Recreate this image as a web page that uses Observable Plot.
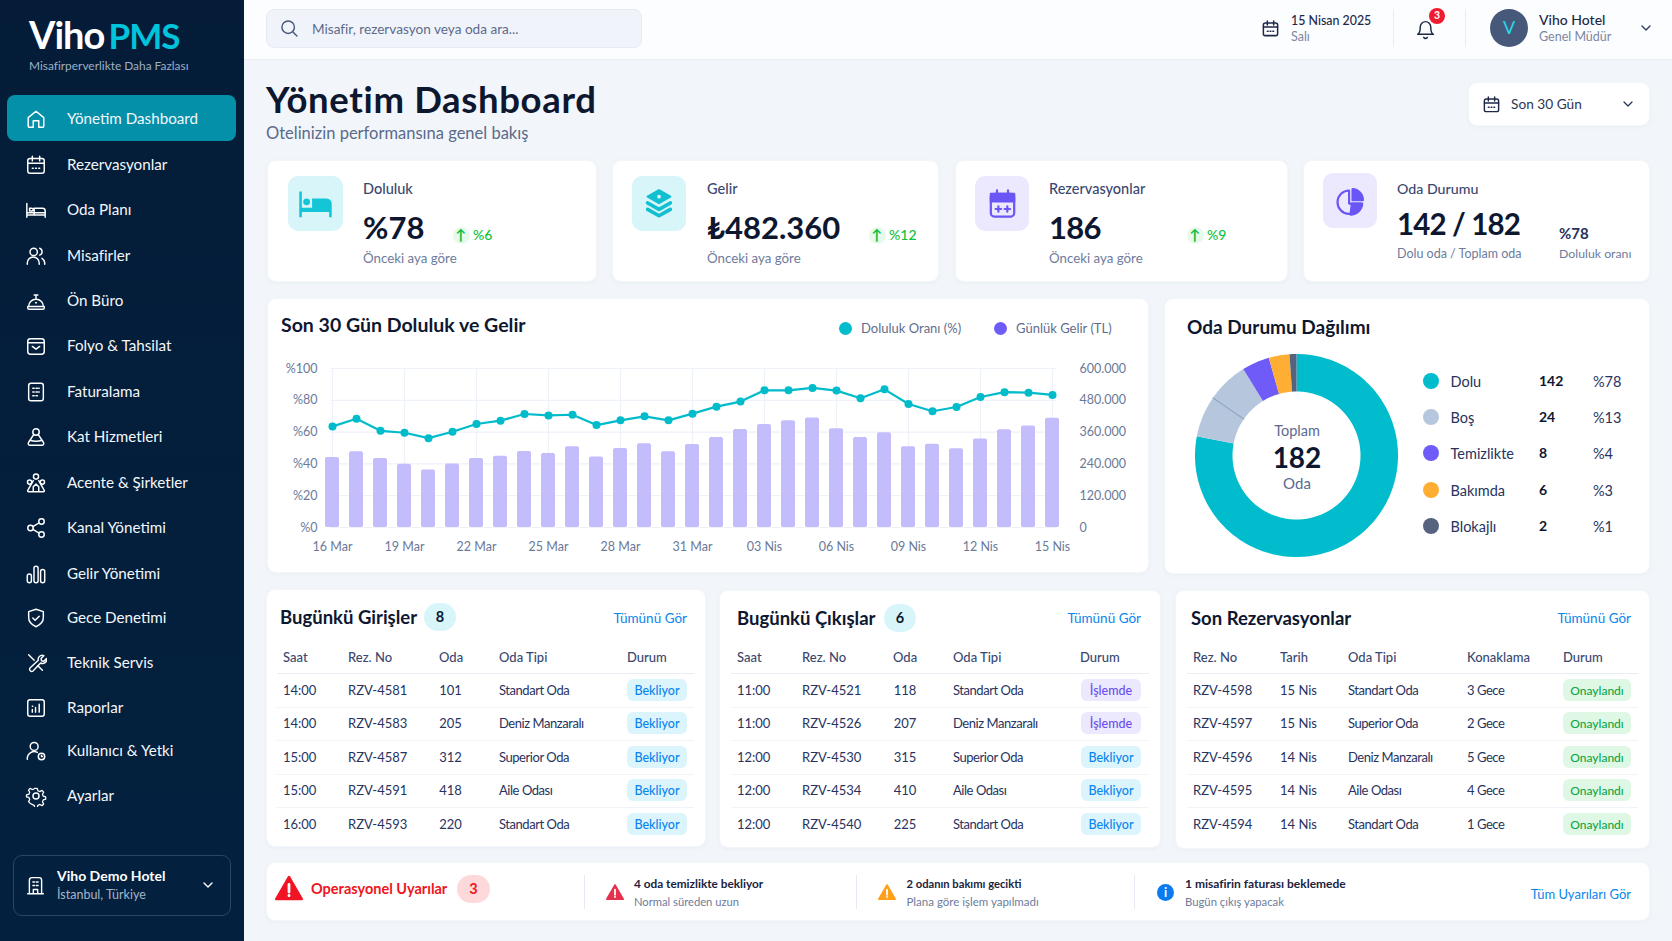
<!DOCTYPE html>
<html lang="tr"><head><meta charset="utf-8"><title>Viho PMS</title>
<script src="https://cdn.jsdelivr.net/npm/d3@7"></script>
<script src="https://cdn.jsdelivr.net/npm/@observablehq/plot@0.6"></script>
<style>
html,body{margin:0;padding:0;background:#f2f6fb}
#app{position:relative;width:1672px;height:941px;overflow:hidden;font-family:Lato,"Noto Sans",sans-serif;background:#f2f6fb}
#app>*{position:absolute}
.t{white-space:nowrap;line-height:1.1}
.card{background:#fff;border-radius:9px;border:1px solid #f4f6fa;box-sizing:border-box;box-shadow:0 1px 4px rgba(60,90,140,.05)}
svg{display:block}
</style></head><body><div id="app"></div>
<script>
// ---- chart data ----
const days = ["16 Mar","17 Mar","18 Mar","19 Mar","20 Mar","21 Mar","22 Mar","23 Mar","24 Mar","25 Mar","26 Mar","27 Mar","28 Mar","29 Mar","30 Mar","31 Mar","01 Nis","02 Nis","03 Nis","04 Nis","05 Nis","06 Nis","07 Nis","08 Nis","09 Nis","10 Nis","11 Nis","12 Nis","13 Nis","14 Nis","15 Nis"];
const dayTicks = ["16 Mar","19 Mar","22 Mar","25 Mar","28 Mar","31 Mar","03 Nis","06 Nis","09 Nis","12 Nis","15 Nis"];
const occupancy = [63.6,68.4,60.8,59.6,56.2,60.2,65.1,67.2,71.4,70.5,70.9,64.4,67.4,69.9,67.4,71.6,76,79.2,86.3,86.3,87.8,86.1,81.3,86.9,77.7,73.1,75.8,82.1,85.1,84.8,83.4];
const revenue = [264000,285500,260200,238700,217300,240000,260200,269100,286700,279200,304400,266500,298100,315800,285500,313300,339800,370100,389100,402900,413100,372600,339800,357500,304400,314500,296800,333500,368800,382700,411800];
const leftTicks = [0,20,40,60,80,100];
const roomNames = ["Dolu","Boş","Temizlikte","Bakımda","Blokajlı"];
const roomCounts = [142,24,8,6,2];
const roomPcts = ["%78","%13","%4","%3","%1"];
const roomColors = ["#00bccd","#b6c6dc","#6f5cf8","#ffae34","#55637f"];
// ---- page text data ----
const navItems = ["Yönetim Dashboard","Rezervasyonlar","Oda Planı","Misafirler","Ön Büro","Folyo & Tahsilat","Faturalama","Kat Hizmetleri","Acente & Şirketler","Kanal Yönetimi","Gelir Yönetimi","Gece Denetimi","Teknik Servis","Raporlar","Kullanıcı & Yetki","Ayarlar"];
const navIcons = ["home","cal","bed","users","ring","folio","invoice","maid","agency","share","bars","shield","wrench","report","usercog","gear"];
const arrivals = [["14:00","RZV-4581","101","Standart Oda","Bekliyor"],["14:00","RZV-4583","205","Deniz Manzaralı","Bekliyor"],["15:00","RZV-4587","312","Superior Oda","Bekliyor"],["15:00","RZV-4591","418","Aile Odası","Bekliyor"],["16:00","RZV-4593","220","Standart Oda","Bekliyor"]];
const departures = [["11:00","RZV-4521","118","Standart Oda","İşlemde"],["11:00","RZV-4526","207","Deniz Manzaralı","İşlemde"],["12:00","RZV-4530","315","Superior Oda","Bekliyor"],["12:00","RZV-4534","410","Aile Odası","Bekliyor"],["12:00","RZV-4540","225","Standart Oda","Bekliyor"]];
const bookings = [["RZV-4598","15 Nis","Standart Oda","3 Gece","Onaylandı"],["RZV-4597","15 Nis","Superior Oda","2 Gece","Onaylandı"],["RZV-4596","14 Nis","Deniz Manzaralı","5 Gece","Onaylandı"],["RZV-4595","14 Nis","Aile Odası","4 Gece","Onaylandı"],["RZV-4594","14 Nis","Standart Oda","1 Gece","Onaylandı"]];

const app = document.getElementById("app");
function box(x,y,w,h,bg,r=0,extra=""){const d=document.createElement("div");d.style.cssText=`left:${x}px;top:${y}px;width:${w}px;height:${h}px;background:${bg};border-radius:${r}px;${extra}`;app.append(d);return d;}
function card(x0,y0,x1,y1){const d=box(x0,y0,x1-x0,y1-y0,"#fff",9);d.className="card";return d;}
function T(x,y,s,size,weight,color,anchor="start",ls=0){const d=document.createElement("div");d.className="t";d.textContent=s;
 const tx=anchor==="middle"?"-50%":anchor==="end"?"-100%":"0";
 d.style.cssText=`left:${x}px;top:${y}px;font-size:${size}px;font-weight:${weight};color:${color};transform:translate(${tx},-50%);letter-spacing:${ls}px`;app.append(d);return d;}
const P={
 home:'<path d="M3.5 10.5 12 3.5l8.5 7V20a1 1 0 0 1-1 1H15v-7H9v7H4.500a1 1 0 0 1-1-1z"/>',
 cal:'<rect x="3" y="5" width="18" height="16" rx="2.500"/><path d="M8 2.500v5M16 2.500v5M3 10h18M8 15.500h1M11.500 15.500h1M15 15.500h1"/>',
 bed:'<path d="M2 5v15M2 17.500h20V20M22 17.500V13a3 3 0 0 0-3-3H10v7.500M5 10h2.500a1.300 1.300 0 0 1 0 3H5z"/><path d="M2 15h20"/>',
 users:'<circle cx="9.500" cy="7.500" r="4"/><path d="M2.500 21v-1.500a6.500 6.500 0 0 1 13 0V21M16 3.500a4 4 0 0 1 0 7.500M18.500 14.500a6 6 0 0 1 3 5V21"/>',
 ring:'<path d="M4 18a8 8 0 0 1 16 0M3 18h18v1.500a1.500 1.500 0 0 1-1.500 1.500h-15A1.500 1.500 0 0 1 3 19.500zM12 10V6M10 5.500h4M11.500 14h1"/>',
 folio:'<rect x="3" y="4" width="18" height="17" rx="3"/><path d="M3 8.500h18M8 12.500l4 3 4-3"/>',
 invoice:'<rect x="4" y="2.500" width="16" height="19" rx="2.500"/><path d="M8.500 8h1.500M12 8h1.500M15 8h.5M8.500 12h1.500M12 12h1.500M15 12h.5M8.500 16h1.500M12 16h1.500"/>',
 maid:'<circle cx="12" cy="6.500" r="3.500"/><path d="M9.500 9.500 3.800 18a2 2 0 0 0 1.700 3h13a2 2 0 0 0 1.700-3l-5.700-8.500M5.500 15.500c4 1.500 9 1.500 13 0"/>',
 agency:'<circle cx="12" cy="5" r="2.800"/><circle cx="5" cy="11" r="2.300"/><circle cx="19" cy="11" r="2.300"/><path d="M9 9.500 3 20a1 1 0 0 0 1 1.500h16a1 1 0 0 0 1-1.500L15 9.500M9 21v-5l3-3 3 3v5"/>',
 share:'<circle cx="18" cy="5" r="3"/><circle cx="6" cy="12" r="3"/><circle cx="18" cy="19" r="3"/><path d="M8.600 10.500l6.800-4M8.600 13.500l6.800 4"/>',
 bars:'<rect x="2.500" y="12" width="4.500" height="9.500" rx="2.200"/><rect x="9.800" y="3.500" width="4.500" height="18" rx="2.200"/><rect x="17" y="7" width="4.500" height="14.500" rx="2.200"/>',
 shield:'<path d="M12 2.500 4 5v6.500c0 4.800 3.300 8 8 10 4.700-2 8-5.200 8-10V5z"/><path d="M8.500 12l2.500 2.500 4.500-4.500"/>',
 wrench:'<path d="M14.700 6.300a4.500 4.500 0 0 1 5.800-2.300l-3 3 .5 2.500 2.500.5 3-3a4.500 4.500 0 0 1-6.500 5L9 20.500a2.300 2.300 0 0 1-3.300-3.300L14.500 9a4.500 4.500 0 0 1 .2-2.700z"/><path d="M4 3l6 6M14 15l5 5"/>',
 report:'<rect x="3" y="3" width="18" height="18" rx="2.500"/><path d="M8 16.500v-3M11.500 16.500v-5M15.500 16.500V8M8 10h.5"/>',
 usercog:'<circle cx="10" cy="7" r="4.300"/><path d="M2.500 21v-1a7.500 7.500 0 0 1 11-6.500"/><circle cx="18" cy="18" r="3.500"/><path d="M18 16.500V18h1"/>',
 gear:'<circle cx="12" cy="12" r="3.300"/><path d="M10.500 2.500h3l.8 3 2.500 1 2.700-1.500 2 2.200-1.500 2.600 1 2.400 3 .8v3l-3 .8-1 2.500 1.500 2.600-2 2.100-2.700-1.500-2.500 1-.8 3h-3l-.8-3-2.500-1L4.700 21l-2-2.100 1.500-2.600-1-2.500-3-.8V10.500l3-.8 1-2.400L2.700 4.700l2-2.200 2.700 1.500 2.500-1z" transform="translate(1.440 1.440) scale(.88)"/>',
 building:'<path d="M5 21.500V6a3 3 0 0 1 3-3h8a3 3 0 0 1 3 3v15.500M3 21.500h18M9.500 21.500v-5h5v5M9 8h2M13 8h2M9 12h2M13 12h2"/>',
 chev:'<path d="M6 9l6 6 6-6"/>',
 search:'<circle cx="11" cy="11" r="7.500"/><path d="M21.500 21.500 16.500 16.500"/>',
 bell:'<path d="M6 9a6 6 0 0 1 12 0c0 7 3 8.500 3 8.500H3S6 16 6 9M10 21a2.200 2.200 0 0 0 4 0"/>',
 kbed:'<path d="M2.500 5v15h1.500v-3h16v3h1.500v-8a3 3 0 0 0-3-3H10v5.500H4V5z" fill="currentColor" stroke="none"/><circle cx="6.800" cy="11" r="2" fill="currentColor" stroke="none"/>',
 klayers:'<path d="M12 3l8 4.500-8 4.500-8-4.500z" fill="currentColor"/><path d="M4 12l8 4.500 8-4.500M4 16.500 12 21l8-4.500" stroke-width="2.600"/><circle cx="12" cy="7.500" r="1.300" fill="#dff7fb" stroke="none"/>',
 kcal:'<rect x="3.500" y="5" width="17" height="16.500" rx="2.500"/><path d="M3.500 5h17v5.500h-17z" fill="currentColor"/><path d="M8 2.500v5M16 2.500v5M7 16h4M9 14v4M13.500 16h4M15.500 14v4"/>',
 kpie:'<path d="M11 4a8.500 8.500 0 1 0 8.500 9.500H11z"/><path d="M13.500 3v8H21a8 8 0 0 0-7.500-8zM13 13.500h7.500a8.500 8.500 0 0 1-8.500 8z" fill="currentColor"/>'
};
function I(name,cx,cy,size,color,sw=1.8){const d=document.createElement("div");d.style.cssText=`left:${cx-size/2}px;top:${cy-size/2}px;width:${size}px;height:${size}px;color:${color}`;
 d.innerHTML=`<svg viewBox="0 0 24 24" width="${size}" height="${size}" fill="none" stroke="currentColor" stroke-width="${sw}" stroke-linecap="round" stroke-linejoin="round">${P[name]}</svg>`;app.append(d);}
function triangle(cx,cy,w,color){const d=document.createElement("div");d.style.cssText=`left:${cx-w/2}px;top:${cy-w/2}px;width:${w}px;height:${w}px`;
 d.innerHTML=`<svg viewBox="0 0 24 24" width="${w}" height="${w}"><path d="M12 2.500 23 21.500H1z" fill="${color}" stroke="${color}" stroke-width="2" stroke-linejoin="round"/><path d="M12 9v6.500M12 18.300v.4" stroke="#fff" stroke-width="2.400" stroke-linecap="round"/></svg>`;app.append(d);}

// Sidebar
box(0,0,244,941,"linear-gradient(180deg,#041c38,#03213f)");
const logo=T(29,35,"",38,700,"#fff","start",-1);logo.innerHTML='Viho <span style="color:#00c4dc;font-weight:700;font-size:35px;margin-left:-4px">PMS</span>';
T(29,66,"Misafirperverlikte Daha Fazlası",11.9,400,"#9db0c5");
box(7,95,229,46,"#0590aa",8);
const navY=[119,165,210,256,301,346,392,437,483,528,574,618,663,708,751,796];
navItems.forEach((s,i)=>{I(navIcons[i],36,navY[i],22,"#fff",1.6);T(67,navY[i]-1,s,15.2,400,"#f4f7fb");});
box(13,855,216,59,"transparent",9,"border:1px solid #2b4662;");
I("building",35,885,21,"#fff",1.6);
T(57,876,"Viho Demo Hotel",14,700,"#fff");T(57,895,"İstanbul, Türkiye",12.5,400,"#a5b5c8");
I("chev",208,885,16,"#fff",2);

// Top bar
box(244,0,1428,60,"#fcfdfe",0,"border-bottom:1px solid #e9eef5;box-sizing:border-box");
box(266,9,376,39,"#f0f4fa",8,"border:1px solid #e6ecf5;box-sizing:border-box");
I("search",289,28,20,"#47567a",1.7);
T(312,29,"Misafir, rezervasyon veya oda ara...",13.6,400,"#5c6a8a");
I("cal",1270,28,19,"#1c2848",1.9);
T(1291,21,"15 Nisan 2025",12.4,500,"#1c2848");T(1291,37,"Salı",12.5,400,"#7b87a2");
box(1393,9,1,38,"#e8edf4");box(1465,9,1,38,"#e8edf4");
I("bell",1425,29,21,"#1c2848",1.7);
box(1429,8,16,16,"#ef1c2e",8);T(1437,16,"3",10.5,700,"#fff","middle");
box(1490,9,38,38,"#47597b",19);T(1509,28,"V",18,400,"#2ad6e8","middle");
T(1539,20,"Viho Hotel",14,500,"#1c2848");T(1539,37,"Genel Müdür",12.5,400,"#7b87a2");
I("chev",1646,28,16,"#2e3b5c",2);

// Heading
T(266,98.500,"Yönetim Dashboard",36.500,700,"#0e1730","start",0.65);
T(266,133,"Otelinizin performansına genel bakış",16.500,400,"#5a6a8a");
card(1468,82,1650,126);I("cal",1491,104,19,"#1c2848",1.8);T(1511,104,"Son 30 Gün",13.700,400,"#2a3658");I("chev",1628,104,16,"#2e3b5c",2);

// KPI cards
card(267,160,597,282);card(612,160,939,282);card(955,160,1288,282);card(1303,160,1650,282);
box(288,176,55,55,"#d8f6fa",10);box(632,176,54,55,"#d8f6fa",10);box(975,176,54,55,"#ece9fe",10);box(1323,173,54,55,"#ece9fe",10);
I("kbed",315,203,41,"#14c5d8",1.8);I("klayers",659,203,34,"#12bfd0",1.6);I("kcal",1002,203,33,"#6a55f5",1.6);I("kpie",1350,201,33,"#6a55f5",1.6);
function kpi(x,label,val,ax,pct,ptx,sub){T(x,189,label,14.500,500,"#3a4870");T(x,227,val,31,700,"#0e1730","start",val==="186"?-.7:0);
 box(ax-8,227,17,17,"#e7f9ec",9);T(ax,235,"↑",14.500,700,"#0cbf3c","middle");T(ptx,235,pct,14,500,"#0cbf3c");T(x,258,sub,13.300,400,"#6d7c9c");}
kpi(363,"Doluluk","%78",461,"%6",473,"Önceki aya göre");
kpi(707,"Gelir","₺482.360",877,"%12",889,"Önceki aya göre");
kpi(1049,"Rezervasyonlar","186",1195,"%9",1207,"Önceki aya göre");
T(1397,189,"Oda Durumu",14.200,500,"#3a4870");T(1397,224,"142 / 182",29.500,700,"#0e1730","start",-.85);
T(1559,233,"%78",15,700,"#26325a");T(1397,254,"Dolu oda / Toplam oda",12.500,400,"#6d7c9c");T(1559,254,"Doluluk oranı",12.300,400,"#6d7c9c");

// Combo chart
card(267,298,1149,573);
T(281,325,"Son 30 Gün Doluluk ve Gelir",19.500,700,"#0e1730");
box(839,322,13,13,"#00bccd",7);T(861,328,"Doluluk Oranı (%)",13,400,"#5f6d8c");
box(994,322,13,13,"#6f5cf8",7);T(1016,328,"Günlük Gelir (TL)",13,400,"#5f6d8c");
const series = days.map((d,i)=>({day:d,occ:occupancy[i],rev:revenue[i]}));
const combo = Plot.plot({
 width:882,height:225,marginLeft:51.500,marginRight:82.500,marginTop:28,marginBottom:38,
 style:{background:"transparent",fontFamily:"Lato,'Noto Sans',sans-serif",fontSize:"12.5px",color:"#6b7a99",overflow:"visible"},
 x:{type:"band",domain:days,paddingInner:0.4,paddingOuter:0.2,label:null},
 y:{domain:[0,100],label:null},
 marks:[
  Plot.ruleY(leftTicks,{stroke:"#edf1f8",strokeWidth:1.200,insetLeft:12,insetRight:10}),
  Plot.ruleX(dayTicks,{stroke:"#eef2f8",strokeWidth:1.200}),
  Plot.barY(series,{x:"day",y:d=>d.rev/6000,fill:"#c3bdfb",rx:2}),
  Plot.line(series,{x:"day",y:"occ",stroke:"#00bcca",strokeWidth:2.200}),
  Plot.dot(series,{x:"day",y:"occ",fill:"#00bcca",r:4}),
  Plot.axisY({anchor:"left",ticks:leftTicks,tickSize:0,tickPadding:1.500,tickFormat:d=>"%"+d,label:null}),
  Plot.axisY({anchor:"right",ticks:leftTicks,tickSize:0,tickPadding:12.500,tickFormat:d=>(d*6000).toLocaleString("tr-TR"),label:null}),
  Plot.axisX({ticks:dayTicks,tickSize:0,tickPadding:15,label:null})
 ]});
const cw=document.createElement("div");cw.style.cssText="left:267px;top:340px";cw.append(combo);app.append(cw);

// Donut chart
card(1164,298,1650,574);
T(1187,327,"Oda Durumu Dağılımı",19,700,"#0e1730");
const DS=220, R=101.500, rIn=64, k=R/(Math.PI/3), colOut=60, colIn=rIn/k*180/Math.PI;
const total=d3.sum(roomCounts);
let acc=0;
const slices=roomNames.map((n,i)=>{const a0=acc/total*360;acc+=roomCounts[i];const a1=acc/total*360;
 const thetas=d3.range(a0,a1,1.500).concat([a1]);
 const outer=thetas.map(t=>[180-t,90-colOut]);const inner=thetas.slice().reverse().map(t=>[180-t,90-colIn]);
 return {name:n,color:roomColors[i],mid:(a0+a1)/2,geom:{type:"Polygon",coordinates:[[...outer,...inner,outer[0]]]}};});
const seam={type:"LineString",coordinates:[[180-slices[1].mid,90-colOut],[180-slices[1].mid,90-colIn]]};
const donut=Plot.plot({width:DS,height:DS,margin:0,style:{background:"transparent",overflow:"visible"},
 projection:d3.geoAzimuthalEquidistant().rotate([0,-90]).translate([DS/2,DS/2]).scale(k),
 marks:[Plot.geo(slices,{geometry:d=>d.geom,fill:d=>d.color}),Plot.geo([seam],{stroke:"#86a3bd",strokeWidth:1.100})]});
const dw=document.createElement("div");dw.style.cssText=`left:${1296-DS/2}px;top:${455-DS/2}px`;dw.append(donut);app.append(dw);
T(1297,431,"Toplam",14.500,400,"#5b6a8f","middle");T(1297,457,"182",28,700,"#0e1730","middle");T(1297,483,"Oda",15,400,"#5b6a8f","middle");
const legY=[381,417,453,490,526];
roomNames.forEach((n,i)=>{box(1423,legY[i]-8,16,16,roomColors[i],8);T(1450.500,legY[i]+1,n,14.500,400,"#27335e");T(1539,legY[i],String(roomCounts[i]),14,700,"#0e1730");T(1593,legY[i]+1,roomPcts[i],14.500,400,"#27335e");});

// Tables
const rowY=[690,723,757,790,824], lineY=[673,707,740,774,807];
const badgeStyle={"Bekliyor":["#dcf5fd","#0a84ee"],"İşlemde":["#ece8fd","#6a4ff0"],"Onaylandı":["#def8e5","#0ea648"]};
function table(x0,x1,headers,headX,rows,centerCol,centerX,bx0,bx1){
 headers.forEach((h,i)=>T(headX[i],657,h,13,500,"#3a4870"));
 lineY.forEach((y,i)=>box(x0,y,x1-x0,1,i?"#f0f3f8":"#e9eef5"));
 rows.forEach((r,j)=>{r.forEach((c,i)=>{
  if(i===r.length-1){const [bg,fg]=badgeStyle[c];box(bx0,rowY[j]-11,bx1-bx0,22,bg,6);T((bx0+bx1)/2,rowY[j]+.5,c,c==="Onaylandı"?12:12.500,500,fg,"middle");}
  else if(i===centerCol)T(centerX,rowY[j],c,13,400,"#27335e","middle");
  else if(/^[A-Z]Z|:/.test(c)||/Nis$/.test(c))T(headX[i],rowY[j],c,13,400,"#27335e");
  else T(headX[i],rowY[j],c,13,400,"#27335e","start",-.45);
 });});
}
function pill(cx,cy,s,bg,fg){box(cx-16,cy-14,32,28,bg,14);T(cx,cy,s,14.500,700,fg,"middle");}
const link="#0a84ee";
card(266,589,706,847);T(280,617,"Bugünkü Girişler",18.500,700,"#0e1730");pill(440,617,"8","#d8f6fa","#0e1730");T(687,618,"Tümünü Gör",13.500,400,link,"end");
table(277,694,["Saat","Rez. No","Oda","Oda Tipi","Durum"],[283,348,439,499,627],arrivals,2,450.500,627,687);
card(719,590,1161,848);T(737,618,"Bugünkü Çıkışlar",18.500,700,"#0e1730");pill(900,618,"6","#d8f6fa","#0e1730");T(1141,618,"Tümünü Gör",13.500,400,link,"end");
table(731,1149,["Saat","Rez. No","Oda","Oda Tipi","Durum"],[737,802,893,953,1080],departures,2,905,1081,1141);
card(1175,590,1650,849);T(1191,618,"Son Rezervasyonlar",18.500,700,"#0e1730");T(1631,618,"Tümünü Gör",13.500,400,link,"end");
table(1187,1638,["Rez. No","Tarih","Oda Tipi","Konaklama","Durum"],[1193,1280,1348,1467,1563],bookings,-1,0,1563,1631);

// Alerts
card(266,862,1650,921);
triangle(289,888,28,"#f01424");T(311,889,"Operasyonel Uyarılar",14.500,700,"#ef1420");
box(457,875,33,28,"#fdd9db",14);T(473.500,889,"3",14.500,700,"#ef1420","middle");
box(584,875,1,34,"#e6ebf3");box(856,875,1,34,"#e6ebf3");box(1134,875,1,34,"#e6ebf3");
triangle(615,892,18,"#e5304e");T(634,884,"4 oda temizlikte bekliyor",11.800,700,"#1a2340");T(634,902,"Normal süreden uzun",11.200,400,"#6d7c9c");
triangle(887,892,18,"#ff9f1a");T(906.500,884,"2 odanın bakımı gecikti",11.200,700,"#1a2340");T(906.500,902,"Plana göre işlem yapılmadı",11.500,400,"#6d7c9c");
box(1157,884,17,17,"#0a7cf0",9);T(1165.500,892.500,"i",12.500,700,"#fff","middle");
T(1185,884,"1 misafirin faturası beklemede",12,700,"#1a2340");T(1185,902,"Bugün çıkış yapacak",11.300,400,"#6d7c9c");
T(1631,894,"Tüm Uyarıları Gör",13,400,link,"end");
</script></body></html>
